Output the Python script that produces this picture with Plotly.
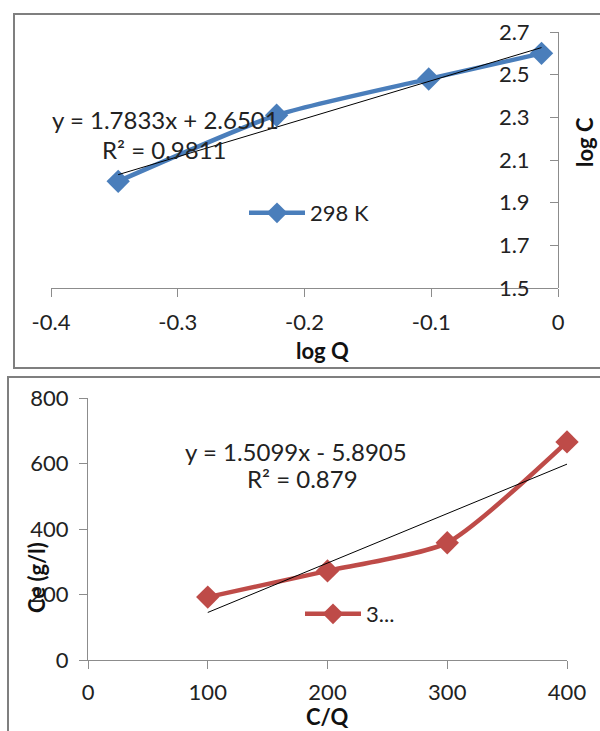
import plotly.graph_objects as go

W, H = 600, 731

# ---------------- data ----------------
# top panel: log C vs log Q at 298 K
logQ = [-0.347, -0.222, -0.102, -0.013]
logC = [2.00, 2.31, 2.48, 2.60]
top_slope, top_intercept = 1.7833, 2.6501
top_name = "298 K"
top_xticks = [-0.4, -0.3, -0.2, -0.1, 0]
top_xticktext = ["-0.4", "-0.3", "-0.2", "-0.1", "0"]
top_yticks = [1.5, 1.7, 1.9, 2.1, 2.3, 2.5, 2.7]

# bottom panel: Ce vs C/Q
CQ = [100, 200, 300, 400]
Ce = [192, 272, 358, 666]
bot_slope, bot_intercept = 1.5099, -5.8905
bot_name = "3..."
bot_xticks = [0, 100, 200, 300, 400]
bot_yticks = [0, 200, 400, 600, 800]

BLUE = "#4A7EBB"
RED = "#BE4B48"
AXC = "#8C8C8C"
FONT = "Lato"


def px(x):
    return x / W


def py(y):
    return 1 - y / H


fig = go.Figure()

# top series
fig.add_trace(go.Scatter(
    x=logQ, y=logC, mode="lines+markers", name=top_name,
    line=dict(color=BLUE, width=4.5, shape="spline", smoothing=0.6),
    marker=dict(symbol="diamond", size=18, color=BLUE),
    xaxis="x", yaxis="y", legend="legend", cliponaxis=False))
fig.add_trace(go.Scatter(
    x=[logQ[0], logQ[-1]],
    y=[top_slope * logQ[0] + top_intercept, top_slope * logQ[-1] + top_intercept],
    mode="lines", line=dict(color="black", width=1), showlegend=False,
    xaxis="x", yaxis="y", hoverinfo="skip"))

# bottom series
fig.add_trace(go.Scatter(
    x=CQ, y=Ce, mode="lines+markers", name=bot_name,
    line=dict(color=RED, width=4.5, shape="spline", smoothing=0.6),
    marker=dict(symbol="diamond", size=18, color=RED),
    xaxis="x2", yaxis="y2", legend="legend2", cliponaxis=False))
fig.add_trace(go.Scatter(
    x=[CQ[0], CQ[-1]],
    y=[bot_slope * CQ[0] + bot_intercept, bot_slope * CQ[-1] + bot_intercept],
    mode="lines", line=dict(color="black", width=1), showlegend=False,
    xaxis="x2", yaxis="y2", hoverinfo="skip"))

tickfont = dict(family=FONT, size=22, color="#222222")
eqfont = dict(family=FONT, size=24, color="#222222")
titlefont = dict(family=FONT, size=22, color="#111111")

common = dict(showgrid=False, zeroline=False, showline=True, linecolor=AXC,
              linewidth=1, ticks="outside", ticklen=8, tickcolor=AXC,
              tickfont=tickfont, automargin=False)

fig.update_layout(
    width=W, height=H,
    margin=dict(l=0, r=0, t=0, b=0, autoexpand=False),
    paper_bgcolor="white", plot_bgcolor="white",
    font=dict(family=FONT, size=22, color="#222222"),
    xaxis=dict(domain=[px(51), px(558)], range=[-0.4, 0], anchor="y",
               tickvals=top_xticks, ticktext=top_xticktext,
               ticklabelstandoff=7, **common),
    yaxis=dict(domain=[py(288), py(32)], range=[1.5, 2.7], anchor="free",
               position=px(558), side="left",
               tickvals=top_yticks, ticktext=[f"{v:.1f}" for v in top_yticks],
               ticklabelstandoff=16, **common),
    xaxis2=dict(domain=[px(88), px(567)], range=[0, 400], anchor="y2",
                tickvals=bot_xticks, ticklabelstandoff=5, **common),
    yaxis2=dict(domain=[py(660), py(398)], range=[0, 800], anchor="x2",
                tickvals=bot_yticks, ticklabelstandoff=6, **common),
    legend=dict(x=px(244), y=py(213), xanchor="left", yanchor="middle",
                bgcolor="rgba(0,0,0,0)", font=dict(family=FONT, size=22),
                itemwidth=56),
    legend2=dict(x=px(300), y=py(614), xanchor="left", yanchor="middle",
                 bgcolor="rgba(0,0,0,0)", font=dict(family=FONT, size=22),
                 itemwidth=56),
    showlegend=True,
)

# panel borders
fig.add_shape(type="rect", xref="paper", yref="paper",
              x0=px(14), x1=px(604), y0=py(368), y1=py(14),
              line=dict(color="#7F7F7F", width=2))
fig.add_shape(type="rect", xref="paper", yref="paper",
              x0=px(8), x1=px(604), y0=py(735), y1=py(377),
              line=dict(color="#7F7F7F", width=2))

# annotations: equations and axis titles
ann = [
    dict(x=px(165), y=py(119), text="y = 1.7833x + 2.6501", font=eqfont),
    dict(x=px(164), y=py(149), text="R² = 0.9811", font=eqfont),
    dict(x=px(296), y=py(451), text="y = 1.5099x - 5.8905", font=eqfont),
    dict(x=px(302), y=py(479), text="R² = 0.879", font=eqfont),
    dict(x=px(322), y=py(350), text="<b>log Q</b>", font=titlefont),
    dict(x=px(584), y=py(142), text="<b>log C</b>", font=titlefont, textangle=-90),
    dict(x=px(327), y=py(716), text="<b>C/Q</b>", font=titlefont),
    dict(x=px(36), y=py(578), text="<b>Ce (g/l)</b>", font=titlefont, textangle=-90),
]
for a in ann:
    fig.add_annotation(xref="paper", yref="paper", showarrow=False,
                       xanchor="center", yanchor="middle", **a)

fig.write_html("out.html", config={"displayModeBar": False},
               post_script="document.body.style.margin='0';document.body.style.overflow='hidden';")
